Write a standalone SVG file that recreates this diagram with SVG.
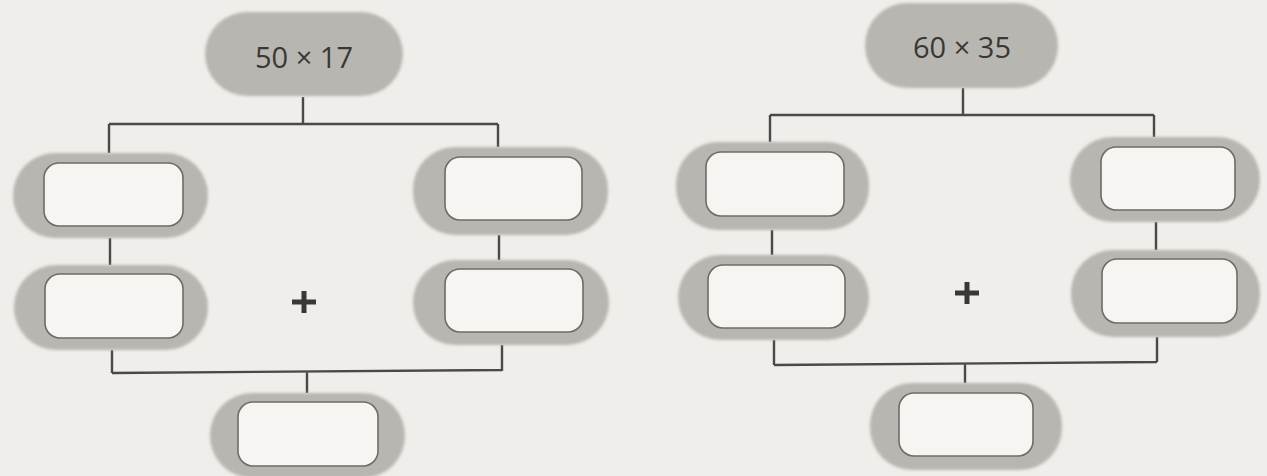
<svg xmlns="http://www.w3.org/2000/svg" width="1267" height="476" viewBox="0 0 1267 476">
<style>
.bg{fill:#efeeea}
.outer{fill:#b8b6b1;filter:url(#soft)}
.inner{fill:#f6f5f2;stroke:#6e6c69;stroke-width:1.6}
.conn{fill:none;stroke:#4b4947;stroke-width:2.4}
.plus{fill:none;stroke:#3a3836;stroke-width:5}
.lbl{font-family:"Open Sans","Liberation Sans",sans-serif;font-size:29px;fill:#3a3836;text-anchor:middle;dominant-baseline:central}
</style>
<defs>
<filter id="soft" x="-10%" y="-20%" width="120%" height="140%">
<feGaussianBlur stdDeviation="1.8"/>
</filter>
</defs>
<rect class="bg" x="0" y="0" width="1267" height="476"/>

<g id="connectors">
<path class="conn" d="M303 97 V124 M109 124 H498 M109 124 V153 M498 124 V147 M110 238 V265 M499 235 V260 M112 350 V373 M502 345 V371 M112 373 L502 370 M307 372 V393"/>
<path class="conn" d="M963 88 V115 M770 115 H1154 M770 115 V142 M1154 115 V137 M772 230 V255 M1156 222 V250 M774 340 V365 M1157 337 V362 M774 365 L1157 362 M965 364 V383"/>
</g>

<g id="n-50x17">
<rect class="outer" x="205" y="12" width="198" height="84" rx="42"/>
<text class="lbl" x="304" y="56">50 × 17</text>
</g>
<g id="n-l1">
<rect class="outer" x="13" y="153" width="195" height="85" rx="42"/>
<rect class="inner" x="44" y="163" width="139" height="63" rx="15"/>
</g>
<g id="n-r1">
<rect class="outer" x="413" y="147" width="195" height="88" rx="42"/>
<rect class="inner" x="445" y="157" width="137" height="63" rx="15"/>
</g>
<g id="n-l2">
<rect class="outer" x="14" y="265" width="194" height="85" rx="42"/>
<rect class="inner" x="45" y="274" width="138" height="64" rx="15"/>
</g>
<g id="n-r2">
<rect class="outer" x="413" y="260" width="196" height="85" rx="42"/>
<rect class="inner" x="445" y="269" width="138" height="63" rx="15"/>
</g>
<g id="n-b">
<rect class="outer" x="210" y="393" width="195" height="85" rx="42"/>
<rect class="inner" x="238" y="402" width="140" height="64" rx="15"/>
</g>
<g id="plus-left">
<path class="plus" d="M292 302 H316 M304 291 V313"/>
</g>

<g id="n-60x35">
<rect class="outer" x="865" y="3" width="193" height="85" rx="42"/>
<text class="lbl" x="962" y="46">60 × 35</text>
</g>
<g id="n-rl1">
<rect class="outer" x="676" y="142" width="193" height="88" rx="42"/>
<rect class="inner" x="706" y="152" width="138" height="64" rx="15"/>
</g>
<g id="n-rr1">
<rect class="outer" x="1070" y="137" width="190" height="85" rx="42"/>
<rect class="inner" x="1101" y="147" width="134" height="63" rx="15"/>
</g>
<g id="n-rl2">
<rect class="outer" x="678" y="255" width="191" height="85" rx="42"/>
<rect class="inner" x="708" y="265" width="137" height="63" rx="15"/>
</g>
<g id="n-rr2">
<rect class="outer" x="1071" y="250" width="189" height="87" rx="42"/>
<rect class="inner" x="1102" y="259" width="135" height="64" rx="15"/>
</g>
<g id="n-rb">
<rect class="outer" x="870" y="383" width="192" height="87" rx="42"/>
<rect class="inner" x="899" y="393" width="134" height="63" rx="15"/>
</g>
<g id="plus-right">
<path class="plus" d="M955 293 H979 M967 282 V304"/>
</g>
</svg>
